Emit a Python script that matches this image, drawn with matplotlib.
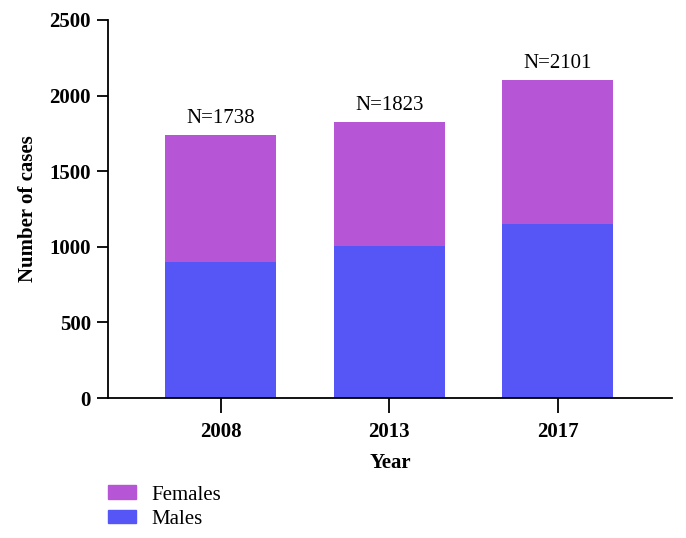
import numpy as np
import matplotlib
matplotlib.use("Agg")
import matplotlib.pyplot as plt
from matplotlib.patches import Patch

# Data
years = ["2008", "2013", "2017"]
males = [900, 1005, 1150]
totals = [1738, 1823, 2101]
females = [t - m for t, m in zip(totals, males)]

blue = "#5656f6"
purple = "#b655d6"

plt.rcParams["font.family"] = ["Liberation Serif", "DejaVu Serif"]

fig = plt.figure(figsize=(6.86, 5.38), dpi=100)
ax = fig.add_axes([0.157, 0.26, 0.823, 0.703])

x = np.arange(len(years))
ax.bar(x, males, width=0.66, color=blue)
ax.bar(x, females, width=0.66, bottom=males, color=purple)

for xi, t in zip(x, totals):
    ax.annotate(f"N={t}", (xi, t), xytext=(0, 5), textcoords="offset points",
                ha="center", va="bottom", fontsize=15)

ax.set_xlim(-0.67, 2.68)
ax.set_ylim(0, 2500)
ax.set_yticks(np.arange(0, 2501, 500))
ax.set_xticks(x)
ax.set_xticklabels(years)

for side in ["top", "right"]:
    ax.spines[side].set_visible(False)
for side in ["left", "bottom"]:
    ax.spines[side].set_linewidth(1.3)

ax.tick_params(axis="y", length=8, width=1.3, labelsize=15, pad=4)
ax.tick_params(axis="x", length=11, width=1.3, labelsize=15, pad=6)
for lbl in ax.get_xticklabels() + ax.get_yticklabels():
    lbl.set_fontweight("bold")

ax.set_xlabel("Year", fontsize=15, fontweight="bold", labelpad=8)
ax.set_ylabel("Number of cases", fontsize=15, fontweight="bold", labelpad=8)

handles = [Patch(color=purple, label="Females"), Patch(color=blue, label="Males")]
fig.legend(handles=handles, loc="lower left", bbox_to_anchor=(0.1326, -0.014),
           frameon=False, fontsize=15, handlelength=1.35, handleheight=0.63,
           handletextpad=0.77, labelspacing=0.25, borderpad=0.3)

fig.savefig("out.png", dpi=100)
